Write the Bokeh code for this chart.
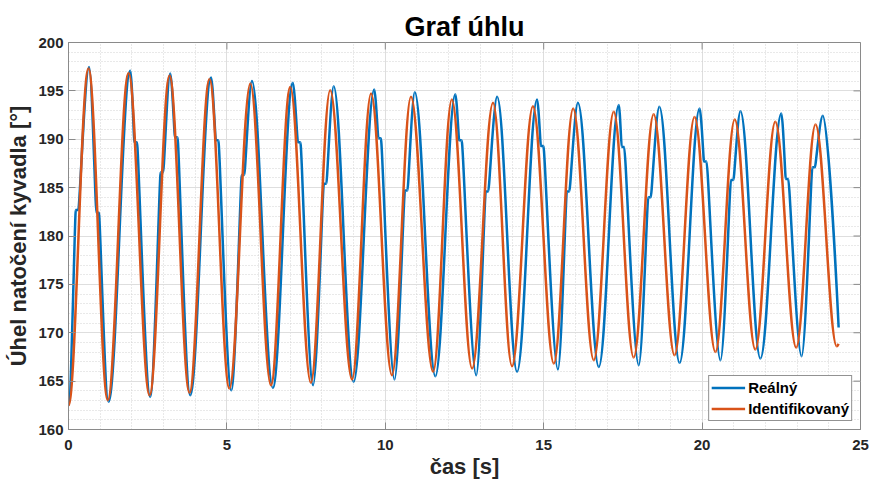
import math
from bokeh.plotting import figure
from bokeh.models import (Range1d, FixedTicker, Legend, LegendItem,
                          ColumnDataSource)
from bokeh.embed import file_html
from bokeh.resources import INLINE

# ---------------- data ----------------
title_text = "Graf úhlu"
x_label = "čas [s]"
y_label = "Úhel natočení kyvadla [°]"
series_names = ["Reálný", "Identifikovaný"]
series_colors = ["#0072BD", "#D95319"]

x_ticks = [0, 5, 10, 15, 20, 25]
y_ticks = [160, 165, 170, 175, 180, 185, 190, 195, 200]
x_minor = [v for v in range(0, 26) if v % 5]
y_minor = [v for v in range(160, 201) if v % 5]

# Reálný (measured) – extrema
real_start = (0.0, 162.5)
real_peak_t = [0.65, 1.95, 3.21, 4.50, 5.79, 7.08, 8.37, 9.65, 10.93, 12.21,
               13.53, 14.79, 16.08, 17.37, 18.65, 19.92, 21.21, 22.50, 23.81]
real_peak_y = [197.48, 197.07, 196.79, 196.38, 196.03, 195.83, 195.48, 195.14,
               194.86, 194.66, 194.38, 194.11, 193.76, 193.55, 193.35, 193.17,
               192.90, 192.66, 192.42]
real_trough_t = [1.26, 2.58, 3.84, 5.14, 6.45, 7.72, 9.00, 10.29, 11.58, 12.87,
                 14.16, 15.45, 16.74, 18.00, 19.29, 20.58, 21.84, 23.14]
real_trough_y = [162.86, 163.37, 163.55, 164.06, 164.30, 164.58, 164.92, 165.16,
                 165.51, 165.61, 165.96, 166.20, 166.47, 166.65, 166.89, 167.16,
                 167.33, 167.58]
# Reálný – short flat shelves (sensor steps)
real_shelf_t0 = [0.23, 0.88, 2.08, 2.91, 3.36, 4.65, 5.47, 7.24, 8.06, 9.78,
                 10.62, 12.33, 13.17, 14.91, 15.73, 17.46, 18.30, 20.06, 20.91,
                 22.64, 23.48]
real_shelf_t1 = [0.31, 0.96, 2.16, 2.99, 3.44, 4.73, 5.55, 7.32, 8.14, 9.86,
                 10.70, 12.41, 13.25, 14.99, 15.81, 17.54, 18.38, 20.14, 20.99,
                 22.72, 23.56]
real_shelf_y = [182.7, 182.4, 189.7, 186.6, 190.2, 189.9, 186.3, 189.7, 185.4,
                190.1, 184.7, 189.9, 184.6, 189.3, 184.6, 189.2, 184.0, 187.7,
                185.8, 185.9, 187.1]
real_end = (24.31, 170.54)

# Identifikovaný (model) – extrema
ident_start = (0.0, 162.5)
ident_peak_t = [0.63, 1.895, 3.19, 4.45, 5.74, 7.00, 8.26, 9.55, 10.81, 12.10,
                13.40, 14.66, 15.93, 17.21, 18.47, 19.76, 21.03, 22.31, 23.58]
ident_peak_y = [197.31, 196.86, 196.59, 196.24, 195.76, 195.41, 195.07, 194.73,
                194.38, 194.11, 193.76, 193.42, 193.17, 192.83, 192.59, 192.31,
                192.04, 191.80, 191.52]
ident_trough_t = [1.24, 2.56, 3.82, 5.08, 6.39, 7.65, 8.95, 10.21, 11.51, 12.74,
                  14.00, 15.32, 16.58, 17.84, 19.13, 20.42, 21.68, 22.97, 24.25]
ident_trough_y = [163.03, 163.55, 163.79, 164.23, 164.58, 164.82, 165.16, 165.61,
                  165.96, 166.30, 166.54, 166.82, 167.16, 167.44, 167.68, 168.02,
                  168.27, 168.47, 168.60]
ident_end = (24.31, 168.85)

FONT = "Liberation Sans"
AXIS_GRAY = "#8a8a8a"
HANDLE = {"ext": 0.3634, "shelf": 0.12, "end": 0.0}


def build_knots(start, peak_t, peak_y, trough_t, trough_y, end,
                shelf_t0=(), shelf_t1=(), shelf_y=()):
    k = [(start[0], start[1], "ext")]
    k += [(t, y, "ext") for t, y in zip(peak_t, peak_y)]
    k += [(t, y, "ext") for t, y in zip(trough_t, trough_y)]
    for a, b, y in zip(shelf_t0, shelf_t1, shelf_y):
        k.append((a, y, "shelf"))
        k.append((b, y, "shelf"))
    k.append((end[0], end[1], "end"))
    k.sort(key=lambda r: r[0])
    return k


def bezier_source(knots):
    d = {key: [] for key in ("x0", "y0", "x1", "y1", "cx0", "cy0", "cx1", "cy1")}
    for (ta, ya, ka), (tb, yb, kb) in zip(knots[:-1], knots[1:]):
        dx = tb - ta
        d["x0"].append(ta); d["y0"].append(ya)
        d["x1"].append(tb); d["y1"].append(yb)
        d["cx0"].append(ta + HANDLE[ka] * dx); d["cy0"].append(ya)
        d["cx1"].append(tb - HANDLE[kb] * dx); d["cy1"].append(yb)
    return ColumnDataSource(d)


real_knots = build_knots(real_start, real_peak_t, real_peak_y, real_trough_t,
                         real_trough_y, real_end, real_shelf_t0, real_shelf_t1,
                         real_shelf_y)
ident_knots = build_knots(ident_start, ident_peak_t, ident_peak_y,
                          ident_trough_t, ident_trough_y, ident_end)

x_lo, x_hi = x_ticks[0], x_ticks[-1]
y_lo, y_hi = y_ticks[0], y_ticks[-1]

# ---------------- figure ----------------
p = figure(width=869, height=481, output_backend="svg", toolbar_location=None,
           x_range=Range1d(x_lo, x_hi), y_range=Range1d(y_lo, y_hi),
           min_border_left=68, min_border_right=9, min_border_top=42,
           min_border_bottom=52)
p.background_fill_color = "white"
p.border_fill_color = "white"
p.outline_line_color = AXIS_GRAY
p.outline_line_width = 1

p.title.text = title_text
p.title.align = "center"
p.title.text_font = FONT
p.title.text_font_size = "27px"
p.title.text_font_style = "bold"
p.title.text_color = "#000000"
p.title.standoff = 1

xt = FixedTicker(ticks=x_ticks, minor_ticks=x_minor)
yt = FixedTicker(ticks=y_ticks, minor_ticks=y_minor)

for ax, t in ((p.xaxis[0], xt), (p.yaxis[0], yt)):
    ax.ticker = t
    ax.axis_line_color = AXIS_GRAY
    ax.major_tick_line_color = AXIS_GRAY
    ax.major_tick_in = 7
    ax.major_tick_out = 0
    ax.minor_tick_in = 0
    ax.minor_tick_out = 0
    ax.major_label_text_font = FONT
    ax.major_label_text_font_size = "15px"
    ax.major_label_text_font_style = "bold"
    ax.major_label_text_color = "#262626"
    ax.axis_label_text_font = FONT
    ax.axis_label_text_font_style = "bold"
    ax.axis_label_text_color = "#262626"
    ax.axis_label_text_font_size = "22px"

p.xaxis[0].axis_label = x_label
p.xaxis[0].major_label_standoff = 10
p.xaxis[0].axis_label_standoff = 1
p.yaxis[0].axis_label = y_label
p.yaxis[0].major_label_standoff = 5
p.yaxis[0].axis_label_standoff = 4

for g, t in ((p.xgrid[0], xt), (p.ygrid[0], yt)):
    g.ticker = t
    g.grid_line_color = "#dedede"
    g.grid_line_width = 1
    g.minor_grid_line_color = "#d2d2d2"
    g.minor_grid_line_dash = "1 2"
    g.minor_grid_line_width = 1

# mirrored inward tick marks on the top and right edges (box on)
p.scatter(x=x_ticks, y=[y_hi] * len(x_ticks), marker="dash", size=14,
          angle=math.pi / 2, line_color=AXIS_GRAY, line_width=1)
p.scatter(x=[x_hi] * len(y_ticks), y=y_ticks, marker="dash", size=14,
          line_color=AXIS_GRAY, line_width=1)

r_real = p.bezier(x0="x0", y0="y0", x1="x1", y1="y1", cx0="cx0", cy0="cy0",
                  cx1="cx1", cy1="cy1", source=bezier_source(real_knots),
                  line_color=series_colors[0], line_width=2.5)
r_ident = p.bezier(x0="x0", y0="y0", x1="x1", y1="y1", cx0="cx0", cy0="cy0",
                   cx1="cx1", cy1="cy1", source=bezier_source(ident_knots),
                   line_color=series_colors[1], line_width=2.5)

legend = Legend(items=[LegendItem(label=series_names[0], renderers=[r_real]),
                       LegendItem(label=series_names[1], renderers=[r_ident])],
                location="bottom_right")
legend.margin = 8
legend.padding = 2
legend.spacing = 2
legend.glyph_width = 34
legend.glyph_height = 19
legend.label_height = 19
legend.label_standoff = 3
legend.label_text_font = FONT
legend.label_text_font_size = "15px"
legend.label_text_font_style = "bold"
legend.label_text_color = "#000000"
legend.border_line_color = "#262626"
legend.border_line_width = 1
legend.background_fill_color = "white"
legend.background_fill_alpha = 1.0
p.add_layout(legend, "center")

open("out.html", "w").write(file_html(p, INLINE))
